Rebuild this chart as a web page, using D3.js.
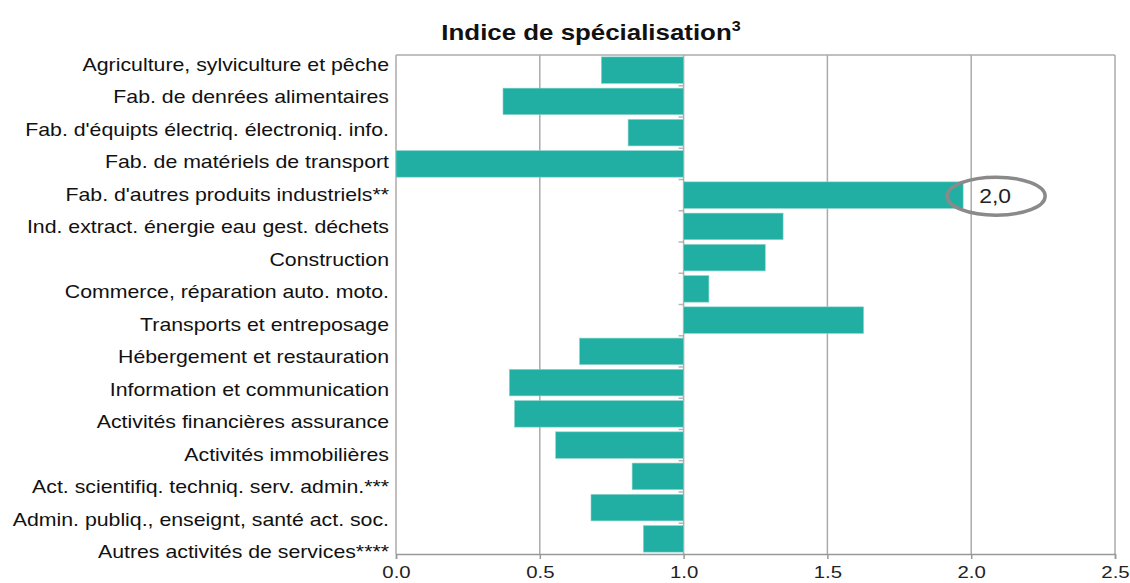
<!DOCTYPE html>
<html><head><meta charset="utf-8">
<script src="https://cdn.jsdelivr.net/npm/d3@7"></script>
<style>
html,body{margin:0;padding:0;background:#fff;}
svg{display:block;font-family:"Liberation Sans",Arial,sans-serif;}
</style></head>
<body>
<svg id="chart" width="1130" height="583"></svg>
<script>
const categories = [
  "Agriculture, sylviculture et pêche",
  "Fab. de denrées alimentaires",
  "Fab. d'équipts électriq. électroniq. info.",
  "Fab. de matériels de transport",
  "Fab. d'autres produits industriels**",
  "Ind. extract. énergie eau gest. déchets",
  "Construction",
  "Commerce, réparation auto. moto.",
  "Transports et entreposage",
  "Hébergement et restauration",
  "Information et communication",
  "Activités financières assurance",
  "Activités immobilières",
  "Act. scientifiq. techniq. serv. admin.***",
  "Admin. publiq., enseignt, santé act. soc.",
  "Autres activités de services****"
];
const values = [0.714, 0.372, 0.807, 0.0, 1.972, 1.346, 1.284, 1.088, 1.626, 0.638, 0.394, 0.412, 0.555, 0.821, 0.678, 0.860];
const xTicks = [0, 0.5, 1.0, 1.5, 2.0, 2.5];
const baseline = 1.0;
const annotationCategory = "Fab. d'autres produits industriels**";
const annotationText = "2,0";
const titleText = "Indice de spécialisation";
const titleSup = "3";

(function () {
const svg = d3.select("#chart");
const pLeft = 396, pRight = 1115, pTop = 55, pBottom = 554;
const sx = 1.145;

const x = d3.scaleLinear().domain([0, 2.5]).range([pLeft, pRight]);
const y = d3.scaleBand().domain(categories).range([pTop, pBottom]).paddingInner(0.15).paddingOuter(0.06);
const yLabel = d3.scalePoint().domain(categories).range([64.5, 551.5]);

// title
const t = svg.append("text").attr("transform", `translate(591,40) scale(1.15,1)`)
  .attr("text-anchor", "middle")
  .attr("font-size", 22.5).attr("font-weight", "bold").attr("fill", "#111");
t.append("tspan").text(titleText);
t.append("tspan").text(titleSup).attr("font-size", 14).attr("dy", -9);

// gridlines (vertical)
svg.append("g").selectAll("line").data(xTicks).join("line")
  .attr("x1", d => x(d)).attr("x2", d => x(d))
  .attr("y1", pTop).attr("y2", pBottom)
  .attr("stroke", "#ababab").attr("stroke-width", 1.5);
// top border
svg.append("line").attr("x1", pLeft).attr("x2", pRight).attr("y1", pTop).attr("y2", pTop)
  .attr("stroke", "#ababab").attr("stroke-width", 1.5);

// bars
svg.append("g").selectAll("rect").data(categories).join("rect")
  .attr("x", (d, i) => x(Math.min(values[i], baseline)))
  .attr("width", (d, i) => Math.abs(x(values[i]) - x(baseline)))
  .attr("y", d => y(d))
  .attr("height", y.bandwidth())
  .attr("fill", "#21afa3")
  .attr("stroke", "#8ed5cd").attr("stroke-width", 0.6);

// small ticks on the 1.0 line at band boundaries
const bounds = categories.slice(1).map(c => y(c) - y.step() * y.paddingInner() / 2);
svg.append("g").selectAll("line").data(bounds).join("line")
  .attr("x1", x(baseline) - 5).attr("x2", x(baseline))
  .attr("y1", d => d).attr("y2", d => d)
  .attr("stroke", "#b5b5b5").attr("stroke-width", 1.5);

// x axis
const xAxis = svg.append("g").attr("transform", `translate(0,${pBottom})`)
  .call(d3.axisBottom(x).tickValues(xTicks).tickFormat(d3.format(".1f")).tickSize(5).tickPadding(5));
xAxis.select(".domain").attr("stroke", "#999").attr("stroke-width", 1.5);
xAxis.selectAll(".tick line").attr("stroke", "#999").attr("stroke-width", 1.5);
xAxis.selectAll(".tick text")
  .attr("y", 24).attr("dy", 0)
  .attr("transform", `scale(1.2,1)`)
  .attr("font-size", 17).attr("fill", "#222")
  .attr("font-family", "Liberation Sans, Arial, sans-serif");

// category labels
svg.append("g").selectAll("text").data(categories).join("text")
  .attr("transform", d => `translate(389,${yLabel(d)}) scale(${sx},1)`)
  .attr("dy", "0.35em")
  .attr("text-anchor", "end").attr("font-size", 18.6).attr("fill", "#111")
  .text(d => d);

// annotation
const ai = categories.indexOf(annotationCategory);
const acx = x(values[ai]) + 33, acy = y(annotationCategory) + y.bandwidth() / 2 + 1;
svg.append("ellipse").attr("cx", acx).attr("cy", acy).attr("rx", 49).attr("ry", 19)
  .attr("fill", "none").attr("stroke", "#8a8a8a").attr("stroke-width", 3.5);
svg.append("text").attr("transform", `translate(${acx - 1},${acy}) scale(${sx},1)`)
  .attr("dy", "0.35em")
  .attr("text-anchor", "middle").attr("font-size", 20).attr("fill", "#222").text(annotationText);
})();
</script>
</body></html>
